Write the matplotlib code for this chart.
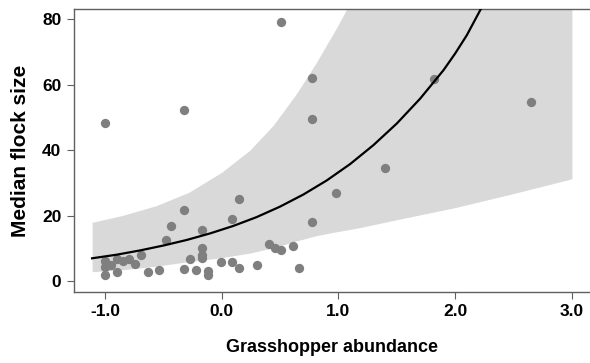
import matplotlib
matplotlib.use("Agg")
import matplotlib.pyplot as plt

plt.rcParams['font.family'] = ['Liberation Sans', 'DejaVu Sans']
plt.rcParams['font.weight'] = 'bold'

# observed sites: grasshopper abundance vs median flock size
obs_x = [-1.0, -1.0, -1.0, -1.0, -0.95, -0.90, -0.90, -0.845, -0.79, -0.74,
         -0.69, -0.635, -0.535, -0.48, -0.43, -0.325, -0.325, -0.325, -0.275, -0.22,
         -0.165, -0.165, -0.165, -0.165, -0.115, -0.115, -0.01, 0.09, 0.09, 0.145,
         0.145, 0.30, 0.405, 0.455, 0.51, 0.51, 0.615, 0.665, 0.77, 0.77,
         0.77, 0.98, 1.40, 1.815, 2.65]
obs_y = [48.4, 6.3, 4.3, 2.0, 4.8, 6.8, 2.8, 6.3, 6.8, 5.3,
         7.9, 2.7, 3.4, 12.7, 16.9, 52.2, 21.9, 3.7, 6.7, 3.4,
         15.6, 10.2, 8.0, 7.0, 3.1, 2.0, 5.9, 19.0, 5.9, 25.0,
         3.9, 4.9, 11.4, 10.0, 9.6, 79.3, 10.8, 3.9, 62.2, 49.7,
         18.2, 27.0, 34.6, 61.7, 54.9]

# fitted curve
fit_x = [-1.11, -0.9, -0.7, -0.5, -0.3, -0.1, 0.1, 0.3, 0.5, 0.7,
         0.9, 1.1, 1.3, 1.5, 1.7, 1.9, 2.0, 2.1, 2.22]
fit_y = [7.0, 8.1, 9.4, 10.9, 12.6, 14.6, 16.9, 19.6, 22.8, 26.5,
         30.8, 35.8, 41.6, 48.2, 55.8, 64.5, 69.6, 75.2, 83.2]

# confidence band
band_x = [-1.11, -0.85, -0.56, -0.28, 0.0, 0.24, 0.44, 0.64, 0.81, 0.98,
          1.08, 1.2, 1.5, 2.0, 2.5, 3.0]
band_lo = [2.9, 3.5, 4.6, 6.0, 7.2, 8.6, 10.2, 12.3, 13.9, 15.1,
           15.7, 16.5, 18.8, 22.5, 26.8, 31.3]
band_hi = [18.0, 20.1, 23.1, 27.2, 33.3, 40.0, 47.6, 57.3, 66.8, 77.2,
           83.8, 95.0, 95.0, 95.0, 95.0, 95.0]

x_ticks = [-1.0, 0.0, 1.0, 2.0, 3.0]
x_labels = ['-1.0', '0.0', '1.0', '2.0', '3.0']
y_ticks = [0, 20, 40, 60, 80]

fig = plt.figure(figsize=(5.9, 3.63), dpi=100)
ax = fig.add_axes([74 / 590, 1 - 292 / 363, 1 - 74 / 590, (292 - 9) / 363])

ax.fill_between(band_x, band_lo, band_hi, color='#d9d9d9', linewidth=0, zorder=1)
ax.plot(fit_x, fit_y, color='black', lw=1.6, zorder=3)
ax.scatter(obs_x, obs_y, s=45, color='#7f7f7f', linewidths=0, zorder=2)

ax.set_xlim(-1.265, 3.155)
ax.set_ylim(-3.3, 83.2)
ax.set_xticks(x_ticks)
ax.set_xticklabels(x_labels)
ax.set_yticks(y_ticks)

for s in ['left', 'top', 'bottom']:
    ax.spines[s].set_color('#606060')
    ax.spines[s].set_linewidth(1.0)
ax.spines['right'].set_visible(False)
ax.tick_params(direction='out', length=5, color='#606060', labelsize=12.5, pad=4)
for lab in ax.get_xticklabels() + ax.get_yticklabels():
    lab.set_fontweight('bold')

ax.set_xlabel('Grasshopper abundance', fontsize=13, fontweight='bold', labelpad=14)
ax.set_ylabel('Median flock size', fontsize=15, fontweight='bold', labelpad=9)

fig.savefig('out.png', dpi=100)
